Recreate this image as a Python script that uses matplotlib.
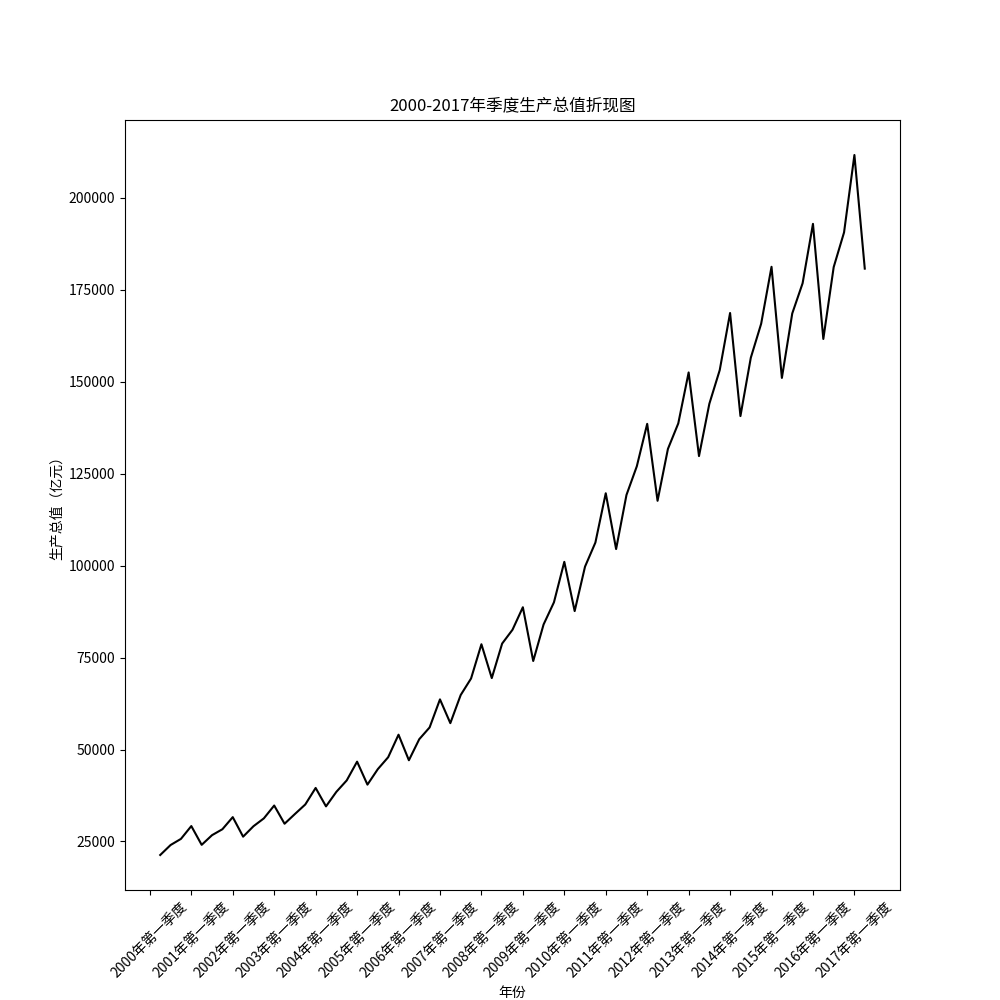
import matplotlib
matplotlib.use('Agg')
import matplotlib.pyplot as plt

plt.rcParams['font.family'] = ['Noto Sans CJK SC', 'DejaVu Sans']
plt.rcParams['axes.unicode_minus'] = False

# 季度生产总值（亿元），2000年第一季度 - 2017年第一季度
gdp_2000 = [21329.9, 24043.4, 25712.5, 29194.3]
gdp_2001 = [24086.4, 26720.0, 28330.0, 31620.0]
gdp_2002 = [26313.8, 29150.0, 31280.0, 34775.5]
gdp_2003 = [29825.5, 32470.0, 35058.4, 39554.1]
gdp_2004 = [34544.6, 38493.3, 41601.0, 46700.0]
gdp_2005 = [40453.3, 44662.7, 47900.0, 54026.1]
gdp_2006 = [47078.9, 52800.0, 56000.0, 63624.1]
gdp_2007 = [57159.3, 64809.0, 69296.6, 78606.9]
gdp_2008 = [69410.4, 78789.0, 82542.2, 88660.0]
gdp_2009 = [74053.1, 83981.3, 90000.0, 101000.0]
gdp_2010 = [87616.7, 99700.0, 106238.3, 119642.5]
gdp_2011 = [104469.9, 119174.3, 126981.7, 138503.3]
gdp_2012 = [117593.9, 131682.5, 138622.2, 152468.9]
gdp_2013 = [129747.0, 143967.0, 153100.0, 168625.1]
gdp_2014 = [140618.3, 156461.3, 165711.9, 181182.5]
gdp_2015 = [150986.7, 168503.0, 176710.4, 192851.9]
gdp_2016 = [161572.7, 181100.0, 190529.5, 211566.2]
gdp_2017 = [180682.7]

gdp = (gdp_2000 + gdp_2001 + gdp_2002 + gdp_2003 + gdp_2004 + gdp_2005
       + gdp_2006 + gdp_2007 + gdp_2008 + gdp_2009 + gdp_2010 + gdp_2011
       + gdp_2012 + gdp_2013 + gdp_2014 + gdp_2015 + gdp_2016 + gdp_2017)

years = list(range(2000, 2018))
tick_labels = ['%d年第一季度' % y for y in years]

fig = plt.figure(figsize=(10, 10), dpi=100)
plt.plot(range(1, len(gdp) + 1), gdp, color='k')
plt.xticks(range(0, len(gdp) + 1, 4), tick_labels, rotation=45)
plt.xlabel('年份')
plt.ylabel('生产总值（亿元）')
plt.title('2000-2017年季度生产总值折现图')
plt.savefig('out.png')
